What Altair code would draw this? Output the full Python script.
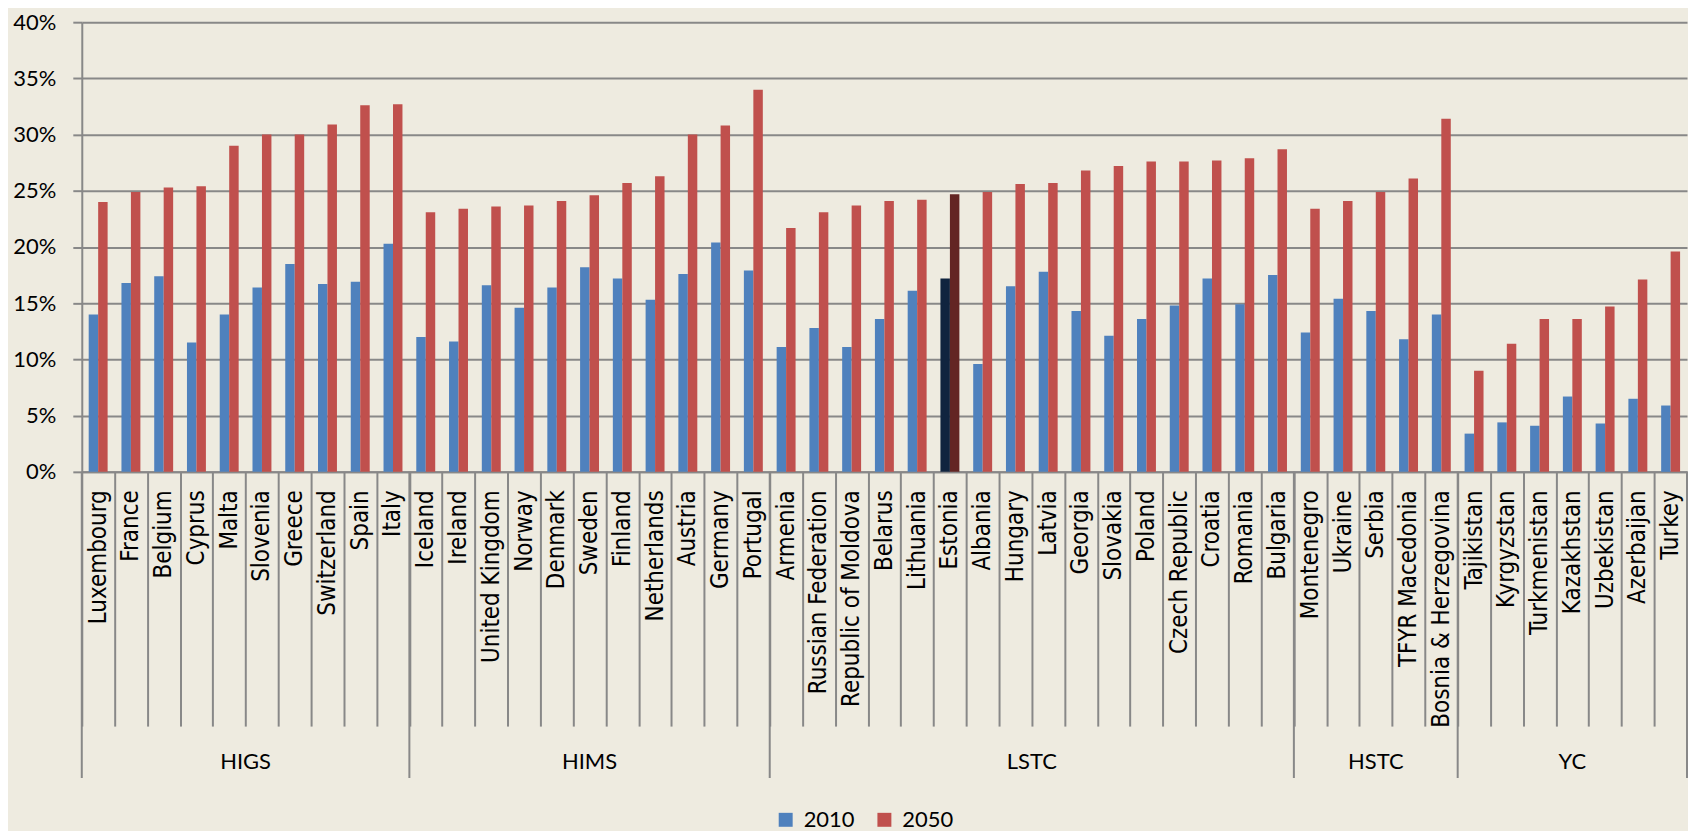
import altair as alt
import pandas as pd

# ---------------- data ----------------
groups = ["HIGS", "HIMS", "LSTC", "HSTC", "YC"]

higs = ["Luxembourg", "France", "Belgium", "Cyprus", "Malta", "Slovenia",
        "Greece", "Switzerland", "Spain", "Italy"]
higs_2010 = [14.0, 16.8, 17.4, 11.5, 14.0, 16.4, 18.5, 16.7, 16.9, 20.3]
higs_2050 = [24.0, 24.9, 25.3, 25.4, 29.0, 30.0, 30.0, 30.9, 32.6, 32.7]

hims = ["Iceland", "Ireland", "United Kingdom", "Norway", "Denmark", "Sweden",
        "Finland", "Netherlands", "Austria", "Germany", "Portugal"]
hims_2010 = [12.0, 11.6, 16.6, 14.6, 16.4, 18.2, 17.2, 15.3, 17.6, 20.4, 17.9]
hims_2050 = [23.1, 23.4, 23.6, 23.7, 24.1, 24.6, 25.7, 26.3, 30.0, 30.8, 34.0]

lstc = ["Armenia", "Russian Federation", "Republic of Moldova", "Belarus",
        "Lithuania", "Estonia", "Albania", "Hungary", "Latvia", "Georgia",
        "Slovakia", "Poland", "Czech Republic", "Croatia", "Romania", "Bulgaria"]
lstc_2010 = [11.1, 12.8, 11.1, 13.6, 16.1, 17.2, 9.6, 16.5, 17.8, 14.3,
             12.1, 13.6, 14.8, 17.2, 14.9, 17.5]
lstc_2050 = [21.7, 23.1, 23.7, 24.1, 24.2, 24.7, 24.9, 25.6, 25.7, 26.8,
             27.2, 27.6, 27.6, 27.7, 27.9, 28.7]

hstc = ["Montenegro", "Ukraine", "Serbia", "TFYR Macedonia", "Bosnia & Herzegovina"]
hstc_2010 = [12.4, 15.4, 14.3, 11.8, 14.0]
hstc_2050 = [23.4, 24.1, 24.9, 26.1, 31.4]

yc = ["Tajikistan", "Kyrgyzstan", "Turkmenistan", "Kazakhstan", "Uzbekistan",
      "Azerbaijan", "Turkey"]
yc_2010 = [3.4, 4.4, 4.1, 6.7, 4.3, 6.5, 5.9]
yc_2050 = [9.0, 11.4, 13.6, 13.6, 14.7, 17.1, 19.6]

highlight = "Estonia"
years = ["2010", "2050"]

members = [higs, hims, lstc, hstc, yc]
vals_2010 = [higs_2010, hims_2010, lstc_2010, hstc_2010, yc_2010]
vals_2050 = [higs_2050, hims_2050, lstc_2050, hstc_2050, yc_2050]

# ---------------- tables ----------------
rows = []
order = []
for g, cs, v1, v2 in zip(groups, members, vals_2010, vals_2050):
    for c, a, b in zip(cs, v1, v2):
        order.append(c)
        for y, v in zip(years, (a, b)):
            series = ("Estonia " + y) if c == highlight else y
            rows.append({"country": c, "group": g, "year": y,
                         "series": series, "value": v / 100.0})
df = pd.DataFrame(rows)

# group boundary rules (left edge of each group) and right edge
starts = pd.DataFrame({"country": [cs[0] for cs in members]})
end = pd.DataFrame({"country": [members[-1][-1]]})

# group label anchors
even_lab = pd.DataFrame([{"country": cs[len(cs) // 2], "group": g}
                         for g, cs in zip(groups, members) if len(cs) % 2 == 0])
odd_lab = pd.DataFrame([{"country": cs[len(cs) // 2], "group": g}
                        for g, cs in zip(groups, members) if len(cs) % 2 == 1])

# ---------------- style ----------------
W = 1610
H = 451
GRID = "#888888"
BG = "#EEEBE0"
LABEL_FONT = "DejaVu Sans Condensed, DejaVu Sans"
NUM_FONT = "Lato"

xsort = order

bars = alt.Chart(df).mark_bar().encode(
    x=alt.X("country:N", sort=xsort,
            scale=alt.Scale(paddingInner=0, paddingOuter=0),
            axis=alt.Axis(title=None, labelAngle=-90, labelAlign="right",
                          labelBaseline="middle", labelFont=LABEL_FONT,
                          labelFontSize=24, labelColor="black",
                          labelLimit=400, labelOverlap=False,
                          tickBand="extent", tickSize=255, tickColor=GRID,
                          tickWidth=2, labelPadding=-237,
                          domainColor=GRID, domainWidth=2)),
    xOffset=alt.XOffset("year:N", scale=alt.Scale(paddingOuter=0.73, paddingInner=0)),
    y=alt.Y("value:Q", scale=alt.Scale(domain=[0, 0.4]),
            axis=alt.Axis(title=None, format=".0%",
                          values=[0, 0.05, 0.1, 0.15, 0.2, 0.25, 0.3, 0.35, 0.4],
                          labelFont=NUM_FONT, labelFontSize=22, labelColor="black",
                          tickSize=9, tickColor=GRID, tickWidth=2,
                          gridColor=GRID, gridWidth=2, gridOpacity=1,
                          domainColor=GRID, domainWidth=2, labelPadding=17)),
    color=alt.Color("series:N",
                    scale=alt.Scale(domain=["2010", "2050", "Estonia 2010", "Estonia 2050"],
                                    range=["#4F81BD", "#C0504D", "#10243F", "#632523"]),
                    legend=alt.Legend(values=["2010", "2050"], title=None,
                                      orient="none", legendX=695, legendY=789,
                                      direction="horizontal", symbolType="square",
                                      symbolSize=196, symbolStrokeWidth=0,
                                      labelFont=NUM_FONT, labelFontSize=22,
                                      labelColor="black", labelOffset=7,
                                      columnPadding=18, padding=0)),
)

rules = alt.Chart(starts).mark_rule(color=GRID, strokeWidth=2).encode(
    x=alt.X("country:N", sort=xsort, bandPosition=0),
    y=alt.value(H),
    y2=alt.value(H + 307),
)
rule_end = alt.Chart(end).mark_rule(color=GRID, strokeWidth=2).encode(
    x=alt.X("country:N", sort=xsort, bandPosition=1),
    y=alt.value(H),
    y2=alt.value(H + 307),
)

txt_even = alt.Chart(even_lab).mark_text(font=NUM_FONT, fontSize=22, color="black",
                                         baseline="middle", align="center").encode(
    x=alt.X("country:N", sort=xsort, bandPosition=0),
    y=alt.value(H + 291),
    text="group:N",
)
txt_odd = alt.Chart(odd_lab).mark_text(font=NUM_FONT, fontSize=22, color="black",
                                       baseline="middle", align="center").encode(
    x=alt.X("country:N", sort=xsort, bandPosition=0.5),
    y=alt.value(H + 291),
    text="group:N",
)

chart = alt.layer(bars, rules, rule_end, txt_even, txt_odd).properties(
    width=W, height=H,
    padding={"left": 4, "top": 2, "right": 0, "bottom": 0},
).configure(background=BG).configure_view(stroke=None)

chart.save("out.html", embed_options={"renderer": "svg", "actions": False})
